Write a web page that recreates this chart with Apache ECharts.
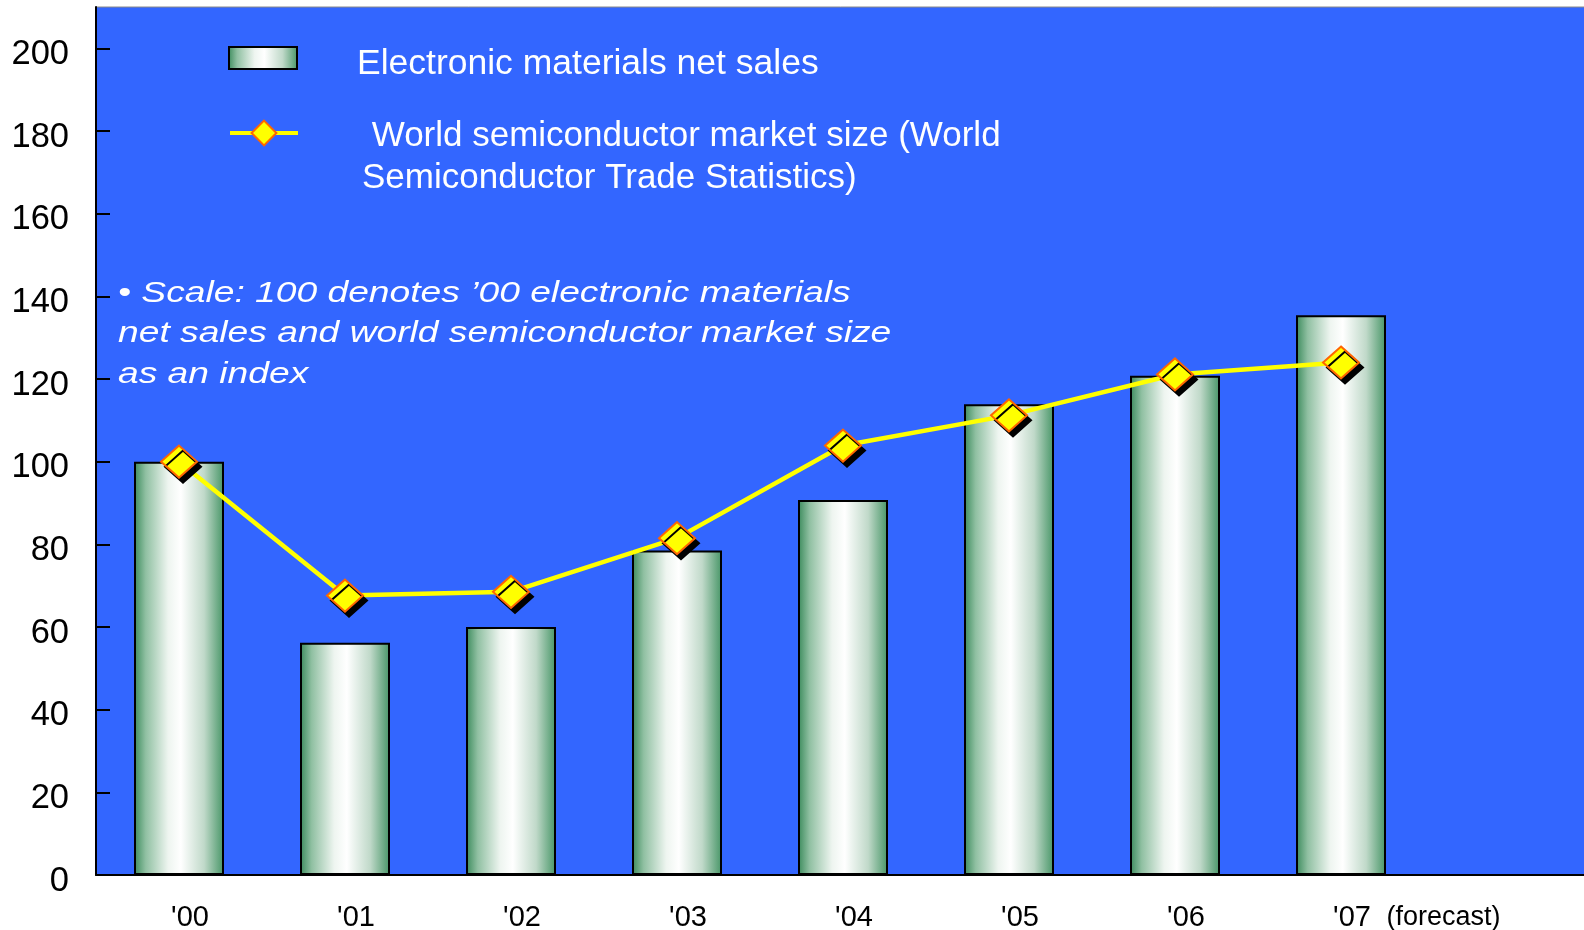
<!DOCTYPE html>
<html>
<head>
    <meta charset="utf-8">
    <title>Electronic materials net sales</title>
    <script src="https://cdn.jsdelivr.net/npm/echarts@6/dist/echarts.min.js"></script>
    <style>
        html, body { margin: 0; padding: 0; background: #fff; }
    </style>
</head>
<body>
    <div id="main" style="width: 1584px; height: 930px;"></div>
    <script type="text/javascript">
        var myChart = echarts.init(document.getElementById('main'));

        // years on the x axis (last slot is empty space on the right)
        var categories = ["'00", "'01", "'02", "'03", "'04", "'05", "'06", "'07", ""];
        // index, '00 = 100
        var netSales = [100, 56.2, 60, 78.5, 90.7, 113.9, 120.8, 135.4];
        var marketSize = [100, 67.6, 68.5, 81.5, 103.9, 111.2, 121.1, 124];
        var yMin = 0, yMax = 210, yStep = 20;

        var salesName = 'Electronic materials net sales';
        var marketName = ' World semiconductor market size (World\nSemiconductor Trade Statistics)';
        var note = '\u2022 Scale: 100 denotes \u201900 electronic materials\nnet sales and world semiconductor market size\nas an index';

        var FONT = '"Liberation Sans", Arial, sans-serif';

        var barFill = new echarts.graphic.LinearGradient(0, 0, 1, 0, [
            { offset: 0, color: '#3a8a5b' },
            { offset: 0.13, color: '#90c0a2' },
            { offset: 0.38, color: '#eef5f0' },
            { offset: 0.52, color: '#ffffff' },
            { offset: 0.78, color: '#c0d9c9' },
            { offset: 1, color: '#469566' }
        ]);

        // legend text: an empty spacer line of height s pushes the real lines down
        function legendText(name) {
            var lines = name.split('\n');
            var out = '{s|}';
            for (var i = 0; i < lines.length; i++) {
                out += '\n{t|' + lines[i] + '}';
            }
            return out;
        }

        var option = {
            backgroundColor: '#ffffff',
            animation: false,
            grid: {
                left: 96,
                right: -6,
                top: 7,
                bottom: 55,
                outerBoundsMode: 'none',
                show: true,
                backgroundColor: '#3366ff',
                borderColor: '#8a8a8a',
                borderWidth: 1
            },
            legend: [
                {
                    data: [salesName],
                    left: 228,
                    top: 32.5,
                    padding: 0,
                    icon: 'rect',
                    itemWidth: 68,
                    itemHeight: 22,
                    selectedMode: false,
                    formatter: legendText,
                    textStyle: {
                        color: '#fff',
                        padding: [0, 0, 0, 55],
                        rich: {
                            s: { lineHeight: 12, fontSize: 10 },
                            t: { color: '#fff', fontFamily: FONT, fontSize: 35.5, lineHeight: 41 }
                        }
                    }
                },
                {
                    data: [marketName],
                    left: 228,
                    top: 86,
                    padding: 0,
                    itemWidth: 68,
                    itemHeight: 31,
                    selectedMode: false,
                    formatter: legendText,
                    lineStyle: { width: 4 },
                    itemStyle: { shadowColor: 'transparent', shadowOffsetX: 0, shadowOffsetY: 0 },
                    textStyle: {
                        color: '#fff',
                        padding: [0, 0, 0, 59],
                        rich: {
                            s: { lineHeight: 48, fontSize: 10 },
                            t: { color: '#fff', fontFamily: FONT, fontSize: 35, lineHeight: 42 }
                        }
                    }
                }
            ],
            xAxis: {
                type: 'category',
                data: categories,
                boundaryGap: true,
                axisLine: { lineStyle: { color: '#000', width: 2 } },
                axisTick: { inside: true, length: 8, lineStyle: { color: '#000', width: 2 } },
                axisLabel: {
                    interval: 0,
                    margin: 28,
                    color: '#000',
                    fontFamily: FONT,
                    fontSize: 29,
                    padding: [0, 0, 0, 22],
                    formatter: function (value) {
                        if (value === "'07") {
                            return '{p|}{a|' + value + '}{b|  (forecast)}';
                        }
                        return value;
                    },
                    rich: {
                        p: { width: 130, fontSize: 29, fontFamily: FONT },
                        a: { fontSize: 29, fontFamily: FONT, color: '#000' },
                        b: { width: 130, align: 'left', fontSize: 27, fontFamily: FONT, color: '#000' }
                    }
                },
                splitLine: { show: false }
            },
            yAxis: {
                type: 'value',
                min: yMin,
                max: yMax,
                interval: yStep,
                axisLine: { show: true, lineStyle: { color: '#000', width: 2 } },
                axisTick: { show: true, inside: true, length: 14, lineStyle: { color: '#000', width: 2 } },
                axisLabel: {
                    margin: 27,
                    color: '#000',
                    fontFamily: FONT,
                    fontSize: 34.5,
                    verticalAlign: 'top',
                    lineHeight: 12,
                    showMaxLabel: false
                },
                splitLine: { show: false }
            },
            series: [
                {
                    name: salesName,
                    type: 'bar',
                    data: netSales,
                    barWidth: 90,
                    itemStyle: {
                        color: barFill,
                        borderColor: '#000',
                        borderWidth: 2
                    },
                    z: 2
                },
                {
                    name: marketName,
                    type: 'line',
                    data: marketSize,
                    symbol: 'diamond',
                    symbolSize: [36, 32],
                    lineStyle: { color: '#ffff00', width: 4.5 },
                    itemStyle: {
                        color: '#ffff00',
                        borderColor: '#ff6600',
                        borderWidth: 2,
                        shadowColor: '#000',
                        shadowBlur: 0,
                        shadowOffsetX: 4,
                        shadowOffsetY: 5
                    },
                    z: 3
                }
            ],
            graphic: [
                {
                    type: 'text',
                    x: 118,
                    y: 273,
                    scaleX: 1.24,
                    z: 10,
                    style: {
                        text: note,
                        fill: '#fff',
                        fontFamily: FONT,
                        fontStyle: 'italic',
                        fontSize: 30,
                        lineHeight: 40.5,
                        align: 'left',
                        verticalAlign: 'top'
                    }
                }
            ]
        };

        myChart.setOption(option);
    </script>
</body>
</html>
